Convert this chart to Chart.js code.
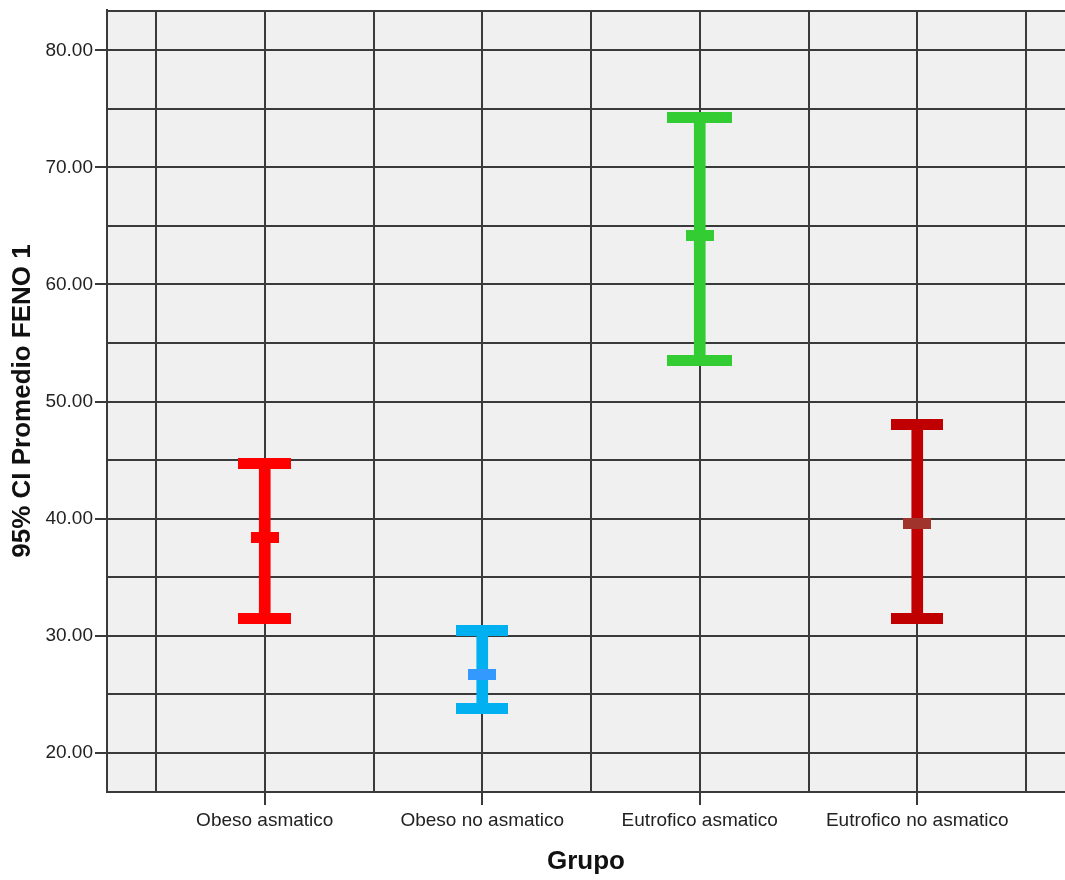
<!DOCTYPE html>
<html>
<head>
<meta charset="utf-8">
<script src="https://cdn.jsdelivr.net/npm/chart.js@4/dist/chart.umd.min.js"></script>
<style>
  html, body { margin: 0; padding: 0; background: #ffffff; }
  #wrap { width: 1065px; height: 880px; }
</style>
</head>
<body>
<div id="wrap"><canvas id="c" width="1065" height="880"></canvas></div>
<script>
// Groups and 95% confidence intervals of mean FENO 1
const groups = ['Obeso asmatico', 'Obeso no asmatico', 'Eutrofico asmatico', 'Eutrofico no asmatico'];
const means = [38.4, 26.7, 64.2, 39.6];
const lowerCI = [31.5, 23.8, 53.5, 31.5];
const upperCI = [44.7, 30.4, 74.3, 48.0];
const yTickValues = [20, 25, 30, 35, 40, 45, 50, 55, 60, 65, 70, 75, 80];
const xGridValues = [-0.5, 0, 0.5, 1, 1.5, 2, 2.5, 3, 3.5];

// Styling per group
const barColors = ['#ff0000', '#00b0f0', '#33cc33', '#c00000'];
const meanColors = ['#ff0000', '#3399ff', '#33cc33', '#a0342d'];
const capWidths = [53, 52, 65, 52];

const FONT = '"Liberation Sans", Arial, Helvetica, sans-serif';
const GRID = '#3a3a3a';

function block(color, w, h) {
  const cv = document.createElement('canvas');
  cv.width = w; cv.height = h;
  const g = cv.getContext('2d');
  g.fillStyle = color;
  g.fillRect(0, 0, w, h);
  return cv;
}
const capStyles = barColors.map((c, i) => block(c, capWidths[i], 11));
const meanStyles = meanColors.map(c => block(c, 28, 11));

const stems = groups.map((g, i) => ({ x: i, y: [lowerCI[i], upperCI[i]] }));
const caps = [];
groups.forEach((g, i) => {
  caps.push({ x: i, y: upperCI[i], k: i });
  caps.push({ x: i, y: lowerCI[i], k: i });
});
const meanPts = groups.map((g, i) => ({ x: i, y: means[i], k: i }));

// Plot panel: grey fill and top frame line
const panel = {
  id: 'panel',
  beforeDraw(chart) {
    const { ctx, chartArea: a } = chart;
    ctx.save();
    ctx.fillStyle = '#f0f0f0';
    ctx.fillRect(a.left, a.top, a.right - a.left, a.bottom - a.top);
    ctx.restore();
  },
  beforeDatasetsDraw(chart) {
    const { ctx, chartArea: a } = chart;
    ctx.save();
    ctx.strokeStyle = GRID;
    ctx.lineWidth = 2;
    ctx.beginPath();
    ctx.moveTo(a.left, a.top + 1);
    ctx.lineTo(a.right, a.top + 1);
    ctx.stroke();
    ctx.restore();
  }
};

new Chart(document.getElementById('c'), {
  type: 'bar',
  data: {
    datasets: [
      {
        type: 'bar',
        data: stems,
        backgroundColor: barColors,
        barThickness: 11,
        borderWidth: 0,
        order: 3
      },
      {
        type: 'scatter',
        data: caps,
        pointStyle: ctx => capStyles[ctx.raw ? ctx.raw.k : 0],
        order: 2
      },
      {
        type: 'scatter',
        data: meanPts,
        pointStyle: ctx => meanStyles[ctx.raw ? ctx.raw.k : 0],
        order: 1
      }
    ]
  },
  plugins: [panel],
  options: {
    responsive: false,
    devicePixelRatio: 1,
    animation: false,
    events: [],
    layout: { autoPadding: false, padding: { top: 10, right: 0, bottom: 0, left: 0 } },
    plugins: { legend: { display: false }, tooltip: { enabled: false } },
    scales: {
      x: {
        type: 'linear',
        position: 'bottom',
        offset: false,
        min: -0.7253,
        max: 3.6793,
        afterBuildTicks: s => { s.ticks = xGridValues.map(v => ({ value: v })); },
        afterFit: s => { s.height = 88; s.paddingLeft = 0; s.paddingRight = 0; },
        ticks: {
          autoSkip: false,
          maxRotation: 0,
          padding: 4,
          color: '#222',
          font: { family: FONT, size: 19 },
          callback: v => Number.isInteger(v) ? groups[v] : ''
        },
        grid: {
          offset: false,
          color: GRID,
          lineWidth: 2,
          tickLength: 13,
          tickColor: c => (c.tick && Number.isInteger(c.tick.value)) ? GRID : 'rgba(0,0,0,0)'
        },
        border: { display: true, color: GRID, width: 2 },
        title: {
          display: true,
          text: 'Grupo',
          color: '#111',
          font: { family: FONT, size: 26, weight: 'bold' },
          padding: { top: 0, bottom: 3 }
        }
      },
      y: {
        type: 'linear',
        min: 16.64,
        max: 83.45,
        afterBuildTicks: s => { s.ticks = yTickValues.map(v => ({ value: v })); },
        afterFit: s => { s.width = 107; s.paddingTop = 0; s.paddingBottom = 0; },
        ticks: {
          padding: 2,
          color: '#222',
          font: { family: FONT, size: 19 },
          callback: v => (v % 10 === 0) ? v.toFixed(2) : ''
        },
        grid: {
          color: GRID,
          lineWidth: 2,
          tickLength: 12,
          tickColor: c => (c.tick && c.tick.value % 10 === 0) ? GRID : 'rgba(0,0,0,0)'
        },
        border: { display: true, color: GRID, width: 2 },
        title: {
          display: true,
          text: '95% CI Promedio FENO 1',
          color: '#111',
          font: { family: FONT, size: 26, weight: 'bold' },
          padding: { top: 7, bottom: 0 }
        }
      }
    }
  }
});
</script>
</body>
</html>
